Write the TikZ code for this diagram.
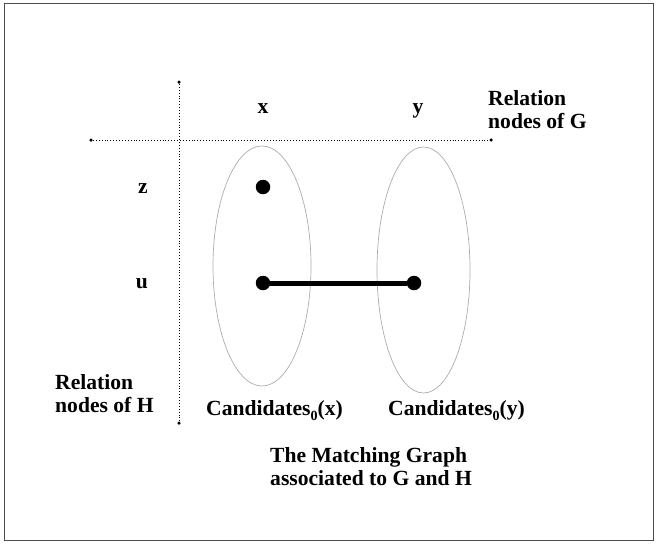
\documentclass[tikz,border=0pt]{standalone}
\usepackage{fontspec}
\setmainfont{Liberation Serif}
\usetikzlibrary{shapes.geometric}
\newcommand{\candsub}{\raisebox{-5pt}{\fontsize{14}{14}\selectfont 0}}

\begin{document}
\begin{tikzpicture}[x=1pt, y=-1pt,
    lbl/.style={font=\fontsize{21.6}{23}\selectfont\bfseries, inner sep=0pt},
    cand/.style={ellipse, draw=gray!65, line width=0.7pt, inner sep=0pt},
    vtx/.style={circle, fill=black, inner sep=0pt, minimum size=14.5pt},
    tick/.style={circle, fill=black, inner sep=0pt, minimum size=3.5pt},
    axis/.style={dotted, line width=0.9pt},
]
\useasboundingbox (0,0) rectangle (660,544);
\draw[gray!60!black, line width=1pt] (4,3) rectangle (653,540);

% the two axes
\node[tick] (gl) at (91,140) {};
\node[tick] (gr) at (491,140) {};
\node[tick] (ht) at (179,82) {};
\node[tick] (hb) at (179,423) {};
\draw[axis] (gl) -- (gr);
\draw[axis] (ht) -- (hb);

% candidate sets
\node[cand, minimum width=98pt, minimum height=240pt] (candx) at (262,266) {};
\node[cand, minimum width=93pt, minimum height=246pt] (candy) at (423.5,270) {};

\node[vtx] (zx) at (263,187) {};
\node[vtx] (ux) at (263,283) {};
\node[vtx] (uy) at (414,283) {};
\draw[line width=5pt] (ux) -- (uy);

% labels
\node[lbl, anchor=base] (lx) at (263,113) {x};
\node[lbl, anchor=base] (ly) at (418,113) {y};
\node[lbl, anchor=base] (lz) at (143,193) {z};
\node[lbl, anchor=base] (lu) at (142,288) {u};
\node[lbl, anchor=north west, align=left] (relg) at (488,90) {Relation\\nodes of G};
\node[lbl, anchor=north west, align=left] (relh) at (55,374) {Relation\\nodes of H};
\node[lbl, anchor=base] (cx) at (274.5,415) {Candidates\candsub(x)};
\node[lbl, anchor=base] (cy) at (456.5,415) {Candidates\candsub(y)};
\node[lbl, anchor=north west, align=left] (title) at (270,447) {The Matching Graph\\associated to G and H};

\end{tikzpicture}
\end{document}
